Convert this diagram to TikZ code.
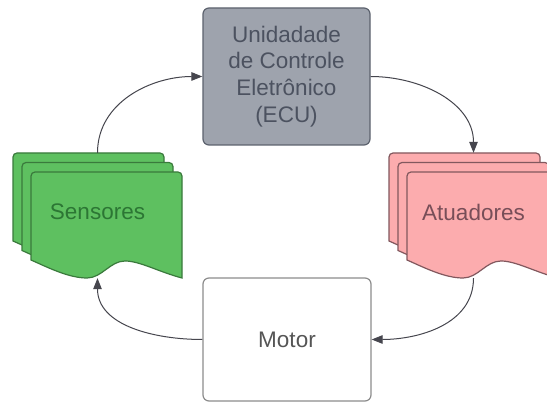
\documentclass[tikz,border=0pt]{standalone}
\usepackage{fontspec}
\setmainfont{Liberation Sans}
\usetikzlibrary{arrows.meta}

\definecolor{ecuFill}{RGB}{158,163,173}
\definecolor{ecuLine}{RGB}{92,98,110}
\definecolor{ecuText}{RGB}{76,82,96}
\definecolor{sensFill}{RGB}{94,192,96}
\definecolor{sensLine}{RGB}{58,122,60}
\definecolor{sensText}{RGB}{44,118,52}
\definecolor{actFill}{RGB}{252,172,174}
\definecolor{actLine}{RGB}{130,88,94}
\definecolor{actText}{RGB}{120,78,88}
\definecolor{motLine}{RGB}{140,140,140}
\definecolor{motText}{RGB}{85,85,85}
\definecolor{arrowCol}{RGB}{70,70,78}

% one sheet of a document stack: top-left corner (#1,#2), y measured downwards
\newcommand\docsheet[3]{%
  \path[#3] (#1,-#2-88) -- (#1,-#2-4)
    arc[start angle=180,end angle=90,radius=4] -- (#1+147,-#2)
    arc[start angle=90,end angle=0,radius=4] -- (#1+151,-#2-106)
    .. controls (#1+128,-#2-100) and (#1+109,-#2-89) .. (#1+94,-#2-89)
    .. controls (#1+79,-#2-89) and (#1+71,-#2-106) .. (#1+56,-#2-106)
    .. controls (#1+38,-#2-106) and (#1+18,-#2-96) .. (#1,-#2-88) -- cycle;}

\tikzset{
  lbl/.style={font=\fontsize{22.5}{26.7}\selectfont, align=center},
  box/.style={lbl, rectangle, rounded corners=6pt, line width=1.2pt},
  stack/.style={lbl, rectangle, draw=none, minimum width=169pt,
    minimum height=125pt, text depth=7pt},
  sheetS/.style={fill=sensFill, draw=sensLine, line width=1.2pt},
  sheetA/.style={fill=actFill, draw=actLine, line width=1.2pt},
  conn/.style={draw=arrowCol, line width=1pt,
    -{Triangle[length=11pt,width=8.5pt]}},
}

\begin{document}
\begin{tikzpicture}[x=1pt,y=1pt]
  \clip (0,0) rectangle (547,-403);
  \fill[white] (0,0) rectangle (547,-403);

  % sensor stack
  \docsheet{13}{153}{sheetS}
  \docsheet{22}{162.5}{sheetS}
  \docsheet{31}{172}{sheetS}
  % actuator stack
  \docsheet{389}{153}{sheetA}
  \docsheet{398}{162.5}{sheetA}
  \docsheet{407}{172}{sheetA}

  \node[stack, text=sensText] (sens) at (97.5,-215.5) {Sensores};
  \node[stack, text=actText] (act) at (473.5,-215.5) {Atuadores};

  \node[box, fill=ecuFill, draw=ecuLine, text=ecuText,
        minimum width=167pt, minimum height=137pt] (ecu) at (286.5,-76.5)
        {Unidadade\\de Controle\\Eletrônico\\(ECU)};
  \node[box, fill=white, draw=motLine, text=motText,
        minimum width=168pt, minimum height=123pt] (motor) at (287,-339.5)
        {Motor};

  \draw[conn] (sens.north) to[out=90,in=180] (ecu.west);
  \draw[conn] (ecu.east) to[out=0,in=90] (act.north);
  \draw[conn] (act.south) to[out=-90,in=0] (motor.east);
  \draw[conn] (motor.west) to[out=180,in=-90] (sens.south);
\end{tikzpicture}
\end{document}
